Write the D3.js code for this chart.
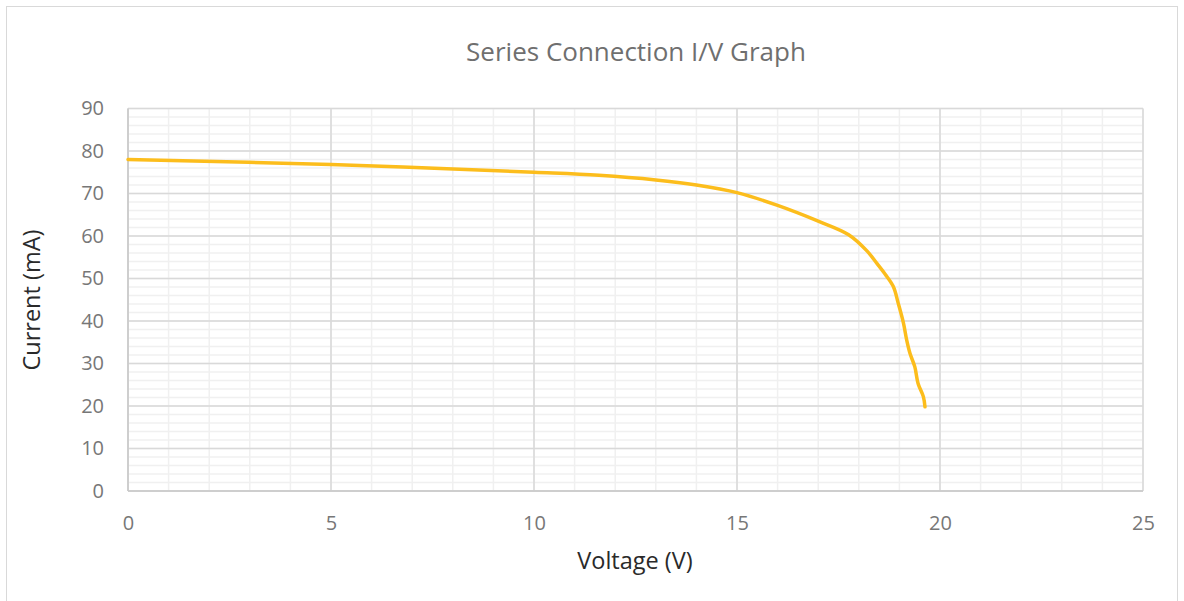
<!DOCTYPE html>
<html><head><meta charset="utf-8">
<script src="https://cdn.jsdelivr.net/npm/d3@7"></script>
<style>body{margin:0;background:#fff}svg{display:block}</style>
</head><body>
<svg id="c" width="1184" height="601"></svg>
<script>
const voltage = [0, 5, 10, 11.6, 13, 14, 15, 16, 17, 17.75, 18.2, 18.45, 18.65, 18.85, 18.97, 19.1, 19.18, 19.26, 19.38, 19.46, 19.59, 19.63];
const current = [78, 76.8, 75, 74.3, 73.2, 72, 70.2, 67.2, 63.5, 60.3, 56.5, 53.5, 51, 48.1, 44.2, 39.5, 35.5, 32.4, 29.2, 25.3, 22.2, 19.8];
const xTicks = [0, 5, 10, 15, 20, 25];
const yTicks = [0, 10, 20, 30, 40, 50, 60, 70, 80, 90];
const titleText = "Series Connection I/V Graph";
const xTitle = "Voltage (V)";
const yTitle = "Current (mA)";

const svg = d3.select("#c");
const font = "'Open Sans', 'Noto Sans', sans-serif";
svg.append("rect").attr("x", 6.5).attr("y", 6.5).attr("width", 1171).attr("height", 600)
  .attr("fill", "#fff").attr("stroke", "#d9d9d9");

const L = 128, R = 1143, T = 108.5, B = 491;
const x = d3.scaleLinear().domain([0, 25]).range([L, R]);
const y = d3.scaleLinear().domain([0, 90]).range([B, T]);

const g = svg.append("g");
g.selectAll(".mx").data(d3.range(0, 25.01, 1)).enter().append("line")
  .attr("x1", d => x(d)).attr("x2", d => x(d)).attr("y1", T).attr("y2", B)
  .attr("stroke", "#f0f0f0").attr("stroke-width", 1.5);
g.selectAll(".my").data(d3.range(0, 90.01, 2)).enter().append("line")
  .attr("y1", d => y(d)).attr("y2", d => y(d)).attr("x1", L).attr("x2", R)
  .attr("stroke", "#f0f0f0").attr("stroke-width", 1.5);
g.selectAll(".Mx").data(xTicks).enter().append("line")
  .attr("x1", d => x(d)).attr("x2", d => x(d)).attr("y1", T).attr("y2", B)
  .attr("stroke", "#d9d9d9").attr("stroke-width", 1.5);
g.selectAll(".My").data(yTicks).enter().append("line")
  .attr("y1", d => y(d)).attr("y2", d => y(d)).attr("x1", L).attr("x2", R)
  .attr("stroke", "#d9d9d9").attr("stroke-width", 1.5);
g.append("line").attr("x1", L).attr("x2", L).attr("y1", T).attr("y2", B).attr("stroke", "#c8c8c8").attr("stroke-width", 1.5);
g.append("line").attr("x1", L).attr("x2", R).attr("y1", B).attr("y2", B).attr("stroke", "#c8c8c8").attr("stroke-width", 1.5);

const xAxis = svg.append("g").attr("transform", `translate(0,${B})`)
  .call(d3.axisBottom(x).tickValues(xTicks).tickSize(0).tickPadding(25).tickFormat(d3.format("d")));
const yAxis = svg.append("g").attr("transform", `translate(${L},0)`)
  .call(d3.axisLeft(y).tickValues(yTicks).tickSize(0).tickPadding(24).tickFormat(d3.format("d")));
[xAxis, yAxis].forEach(a => {
  a.select(".domain").remove();
  a.selectAll("text").attr("font-family", font).attr("font-size", 20).attr("fill", "#777777");
});

const line = d3.line().x((d, i) => x(voltage[i])).y((d, i) => y(current[i])).curve(d3.curveCatmullRom.alpha(0.5));
svg.append("path").datum(current).attr("d", line).attr("fill", "none")
  .attr("stroke", "#fcbd1c").attr("stroke-width", 3.5).attr("stroke-linecap", "round").attr("stroke-linejoin", "round");

svg.append("text").attr("x", 636).attr("y", 61).attr("text-anchor", "middle")
  .attr("font-family", font).attr("font-size", 26).attr("fill", "#6f6f6f").text(titleText);
svg.append("text").attr("x", 635).attr("y", 569).attr("text-anchor", "middle")
  .attr("font-family", font).attr("font-size", 23.5).attr("fill", "#2a2a2a").text(xTitle);
svg.append("text").attr("transform", "translate(40,300) rotate(-90)").attr("text-anchor", "middle")
  .attr("font-family", font).attr("font-size", 23.5).attr("fill", "#2a2a2a").text(yTitle);
</script>
</body></html>
